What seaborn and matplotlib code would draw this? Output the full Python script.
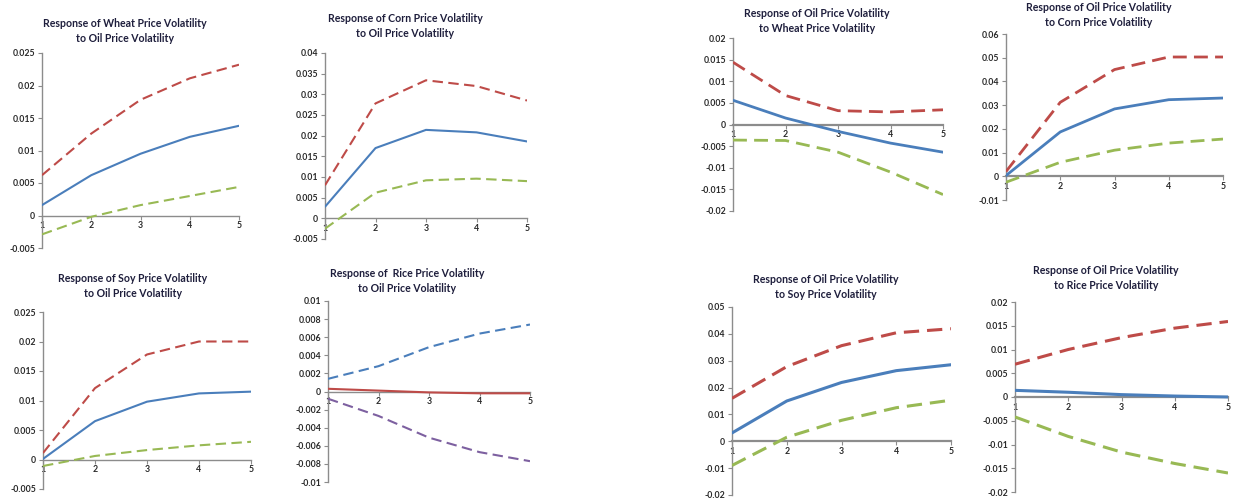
import matplotlib
matplotlib.use("Agg")
import matplotlib.pyplot as plt
import seaborn as sns
import pandas as pd
from matplotlib.ticker import MultipleLocator, FuncFormatter

# ---------------- data ----------------
horizon = [1, 2, 3, 4, 5]

# Response of Wheat to Oil
wheat_resp = [0.0016, 0.0062, 0.0095, 0.0121, 0.0138]
wheat_upper = [0.0062, 0.0126, 0.0178, 0.0211, 0.0232]
wheat_lower = [-0.0029, -0.0002, 0.0016, 0.0030, 0.0044]

# Response of Corn to Oil
corn_resp = [0.0028, 0.0170, 0.0214, 0.0208, 0.0186]
corn_upper = [0.0080, 0.0278, 0.0334, 0.0320, 0.0285]
corn_lower = [-0.0025, 0.0062, 0.0092, 0.0096, 0.0090]

# Response of Soy to Oil
soy_resp = [0.0001, 0.0065, 0.0098, 0.0112, 0.0115]
soy_upper = [0.0011, 0.0121, 0.0178, 0.0200, 0.0200]
soy_lower = [-0.0011, 0.0006, 0.0016, 0.0024, 0.0030]

# Response of Rice to Oil
rice_resp = [0.0003, 0.0001, -0.0001, -0.0002, -0.0002]
rice_upper = [0.0014, 0.0028, 0.0049, 0.0064, 0.0074]
rice_lower = [-0.0008, -0.0027, -0.0051, -0.0067, -0.0077]

# Response of Oil to Wheat
oil_wheat_resp = [0.0056, 0.0015, -0.0016, -0.0043, -0.0064]
oil_wheat_upper = [0.0144, 0.0067, 0.0032, 0.0029, 0.0034]
oil_wheat_lower = [-0.0036, -0.0037, -0.0064, -0.0110, -0.0162]

# Response of Oil to Corn
oil_corn_resp = [0.0003, 0.0187, 0.0284, 0.0323, 0.0330]
oil_corn_upper = [0.0020, 0.0312, 0.0450, 0.0503, 0.0503]
oil_corn_lower = [-0.0025, 0.0059, 0.0110, 0.0140, 0.0157]

# Response of Oil to Soy
oil_soy_resp = [0.0031, 0.0150, 0.0219, 0.0263, 0.0285]
oil_soy_upper = [0.0160, 0.0278, 0.0356, 0.0404, 0.0419]
oil_soy_lower = [-0.0090, 0.0015, 0.0078, 0.0125, 0.0153]

# Response of Oil to Rice
oil_rice_resp = [0.0014, 0.0010, 0.0005, 0.0002, 0.0000]
oil_rice_upper = [0.0069, 0.0100, 0.0125, 0.0145, 0.0159]
oil_rice_lower = [-0.0042, -0.0083, -0.0116, -0.0140, -0.0160]

titles = [
    "Response of Wheat Price Volatility\nto Oil Price Volatility",
    "Response of Corn Price Volatility\nto Oil Price Volatility",
    "Response of Soy Price Volatility\nto Oil Price Volatility",
    "Response of  Rice Price Volatility\nto Oil Price Volatility",
    "Response of Oil Price Volatility\nto Wheat Price Volatility",
    "Response of Oil Price Volatility\nto Corn Price Volatility",
    "Response of Oil Price Volatility\nto Soy Price Volatility",
    "Response of Oil Price Volatility\nto Rice Price Volatility",
]

# ---------------- style ----------------
sns.set_style("white")
plt.rcParams["font.family"] = ["Lato", "DejaVu Sans"]

BLUE = "#4A7EBB"
RED = "#BE4B48"
GREEN = "#98B954"
PURPLE = "#7D60A0"
GRAY = "#8C8C8C"
TXT = "#2B2B2B"
TITLE = "#1E1E3C"

W, H = 1237, 500
fig = plt.figure(figsize=(W / 100, H / 100), dpi=100)
fig.patch.set_facecolor("white")

DASH = (0, (5, 2.6))

# (series list, ylim, step, box (x0,x1,ytop,ybot) px, title center (cx, cy) px, line width)
panels = [
    ([(wheat_upper, RED, DASH), (wheat_lower, GREEN, DASH), (wheat_resp, BLUE, "-")],
     (-0.005, 0.025), 0.005, (42, 239, 53, 248), (125, 31), 1.5),
    ([(corn_upper, RED, DASH), (corn_lower, GREEN, DASH), (corn_resp, BLUE, "-")],
     (-0.005, 0.04), 0.005, (325, 527, 53, 239), (405, 26), 1.5),
    ([(soy_upper, RED, DASH), (soy_lower, GREEN, DASH), (soy_resp, BLUE, "-")],
     (-0.005, 0.025), 0.005, (43, 251, 312, 489), (133, 286), 1.5),
    ([(rice_upper, BLUE, DASH), (rice_lower, PURPLE, DASH), (rice_resp, RED, "-")],
     (-0.01, 0.01), 0.002, (328, 530, 301, 482), (407, 281), 1.5),
    ([(oil_wheat_upper, RED, DASH), (oil_wheat_lower, GREEN, DASH), (oil_wheat_resp, BLUE, "-")],
     (-0.02, 0.02), 0.005, (733, 943, 38, 211), (817, 21), 2.0),
    ([(oil_corn_upper, RED, DASH), (oil_corn_lower, GREEN, DASH), (oil_corn_resp, BLUE, "-")],
     (-0.01, 0.06), 0.01, (1006, 1223, 34, 200), (1099, 15), 2.0),
    ([(oil_soy_upper, RED, DASH), (oil_soy_lower, GREEN, DASH), (oil_soy_resp, BLUE, "-")],
     (-0.02, 0.05), 0.01, (732, 951, 307, 495), (826, 287), 2.2),
    ([(oil_rice_upper, RED, DASH), (oil_rice_lower, GREEN, DASH), (oil_rice_resp, BLUE, "-")],
     (-0.02, 0.02), 0.005, (1015, 1228, 302, 492), (1106, 278), 2.2),
]

fmt = FuncFormatter(lambda v, p: f"{v:g}" if abs(v) > 1e-12 else "0")

for i, (series, ylim, step, box, tc, lw) in enumerate(panels):
    x0, x1, yt, yb = box
    ax = fig.add_axes([x0 / W, 1 - yb / H, (x1 - x0) / W, (yb - yt) / H])
    ax.set_facecolor("none")
    for vals, col, ls in series:
        df = pd.DataFrame({"h": horizon, "v": vals})
        sns.lineplot(data=df, x="h", y="v", ax=ax, color=col, lw=lw,
                     linestyle=ls, zorder=3)
    ax.set_xlim(1, 5)
    ax.set_ylim(*ylim)
    ax.yaxis.set_major_locator(MultipleLocator(step))
    ax.yaxis.set_major_formatter(fmt)
    ax.set_xticks(horizon)
    ax.set_xlabel("")
    ax.set_ylabel("")
    for s in ["top", "right"]:
        ax.spines[s].set_visible(False)
    spw = 1.0 if lw < 2 else 1.6
    ax.spines["left"].set_color(GRAY)
    ax.spines["left"].set_linewidth(1.0)
    ax.spines["bottom"].set_position(("data", 0))
    ax.spines["bottom"].set_color(GRAY)
    ax.spines["bottom"].set_linewidth(spw)
    ax.spines["bottom"].set_zorder(2)
    ax.tick_params(axis="y", direction="out", length=3, width=0.8, color=GRAY,
                   labelsize=6.3, labelcolor=TXT, pad=2, left=True)
    ax.tick_params(axis="x", direction="out", length=3, width=0.8, color=GRAY,
                   labelsize=6.3, labelcolor=TXT, pad=1, bottom=True)
    for lab in ax.get_xticklabels() + ax.get_yticklabels():
        lab.set_fontweight("bold")
    ax.grid(False)
    fig.text(tc[0] / W, 1 - tc[1] / H, titles[i], ha="center", va="center",
             fontsize=7.6, fontweight="bold", color=TITLE, linespacing=1.35)

fig.savefig("out.png", dpi=100)
